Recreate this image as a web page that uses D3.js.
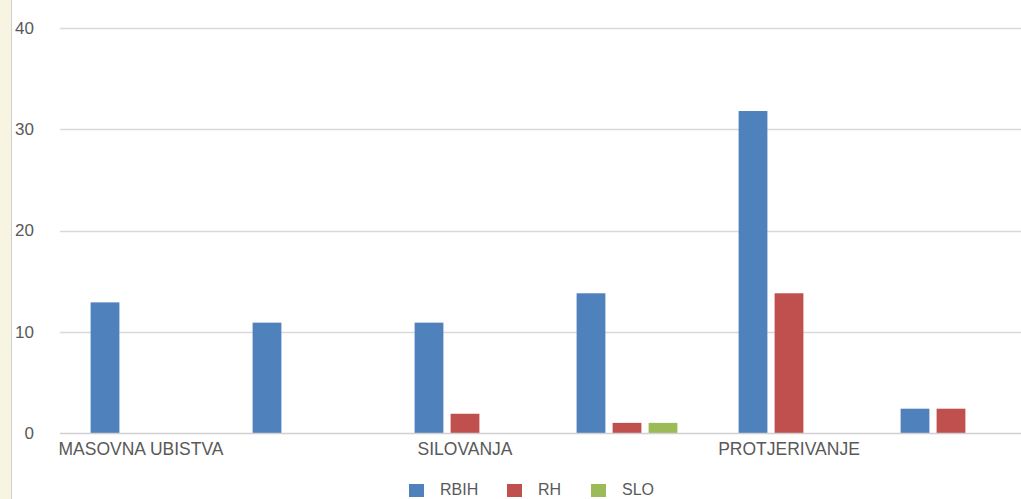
<!DOCTYPE html>
<html>
<head>
<meta charset="utf-8">
<script src="https://cdn.jsdelivr.net/npm/d3@7"></script>
<style>
  html, body { margin: 0; padding: 0; background: #fff; overflow: hidden; }
  svg { display: block; }
  text { font-family: "Liberation Sans", Arial, sans-serif; fill: #595959; }
</style>
</head>
<body>
<div id="chart"></div>
<script>
// ---- data ----
const categories = ["MASOVNA UBISTVA", "", "SILOVANJA", "", "PROTJERIVANJE", ""];
const seriesNames = ["RBIH", "RH", "SLO"];
const rbih = [12.9, 10.9, 10.9, 13.8, 31.8, 2.4];
const rh   = [0, 0, 1.9, 1, 13.8, 2.4];
const slo  = [0, 0, 0, 1, 0, 0];
const yTicks = [0, 10, 20, 30, 40];
const colors = ["#4F81BD", "#C0504D", "#9BBB59"];

const W = 1021, H = 499;
const seriesValues = [rbih, rh, slo];
const rows = categories.map((c, i) => ({
  idx: i, label: c,
  values: seriesNames.map((s, k) => ({ key: s, value: seriesValues[k][i] }))
}));

const svg = d3.select("#chart").append("svg").attr("width", W).attr("height", H);

// left beige strip
svg.append("rect").attr("x", 0).attr("y", 0).attr("width", 11).attr("height", H).attr("fill", "#f7f4e1");
svg.append("line").attr("x1", 11.5).attr("x2", 11.5).attr("y1", 0).attr("y2", H).attr("stroke", "#cfcfcf");

const x0 = d3.scaleBand().domain(d3.range(categories.length)).range([60, 60 + 162 * categories.length]).padding(0);
const x1 = d3.scaleBand().domain(seriesNames).range([0, x0.bandwidth()]).paddingInner(0.2).paddingOuter(0.85);
const y = d3.scaleLinear().domain([0, 40]).range([433, 28]);

// gridlines
svg.append("g").selectAll("line").data(yTicks.filter(t => t > 0)).join("line")
  .attr("x1", 60).attr("x2", W)
  .attr("y1", d => Math.round(y(d)) + 0.5).attr("y2", d => Math.round(y(d)) + 0.5)
  .attr("stroke", "#d9d9d9").attr("stroke-width", 1.5);

// y axis labels
const yAxis = d3.axisLeft(y).tickValues(yTicks).tickSize(0).tickPadding(0);
const gy = svg.append("g").attr("transform", "translate(34,0)").call(yAxis);
gy.select(".domain").remove();
gy.selectAll("text").style("font-size", "17px").style("font-family", "Liberation Sans").attr("fill", "#595959");

// bars
const groups = svg.append("g").selectAll("g").data(rows).join("g")
  .attr("transform", d => `translate(${x0(d.idx)},0)`);
groups.selectAll("rect").data(d => d.values.filter(v => v.value > 0)).join("rect")
  .attr("x", d => x1(d.key))
  .attr("width", x1.bandwidth())
  .attr("y", d => y(d.value))
  .attr("height", d => y(0) - y(d.value))
  .attr("fill", d => colors[seriesNames.indexOf(d.key)]);

// x axis
const xAxis = d3.axisBottom(x0).tickFormat(i => categories[i]).tickSize(0).tickPadding(10);
const gx = svg.append("g").attr("transform", `translate(0,${y(0)})`).call(xAxis);
gx.select(".domain").remove();
gx.selectAll("text").style("font-size", "17.5px").style("font-family", "Liberation Sans").attr("fill", "#595959");
svg.append("line").attr("x1", 60).attr("x2", W).attr("y1", y(0) + 0.5).attr("y2", y(0) + 0.5)
  .attr("stroke", "#d0d0d0").attr("stroke-width", 1.5);

// legend
const legendX = [409, 507, 591];
const lg = svg.append("g").selectAll("g").data(seriesNames).join("g")
  .attr("transform", (d, i) => `translate(${legendX[i]},484)`);
lg.append("rect").attr("width", 15).attr("height", 13).attr("fill", (d, i) => colors[i]);
lg.append("text").attr("x", 31).attr("y", 11).style("font-size", "16px").text(d => d);
</script>
</body>
</html>
